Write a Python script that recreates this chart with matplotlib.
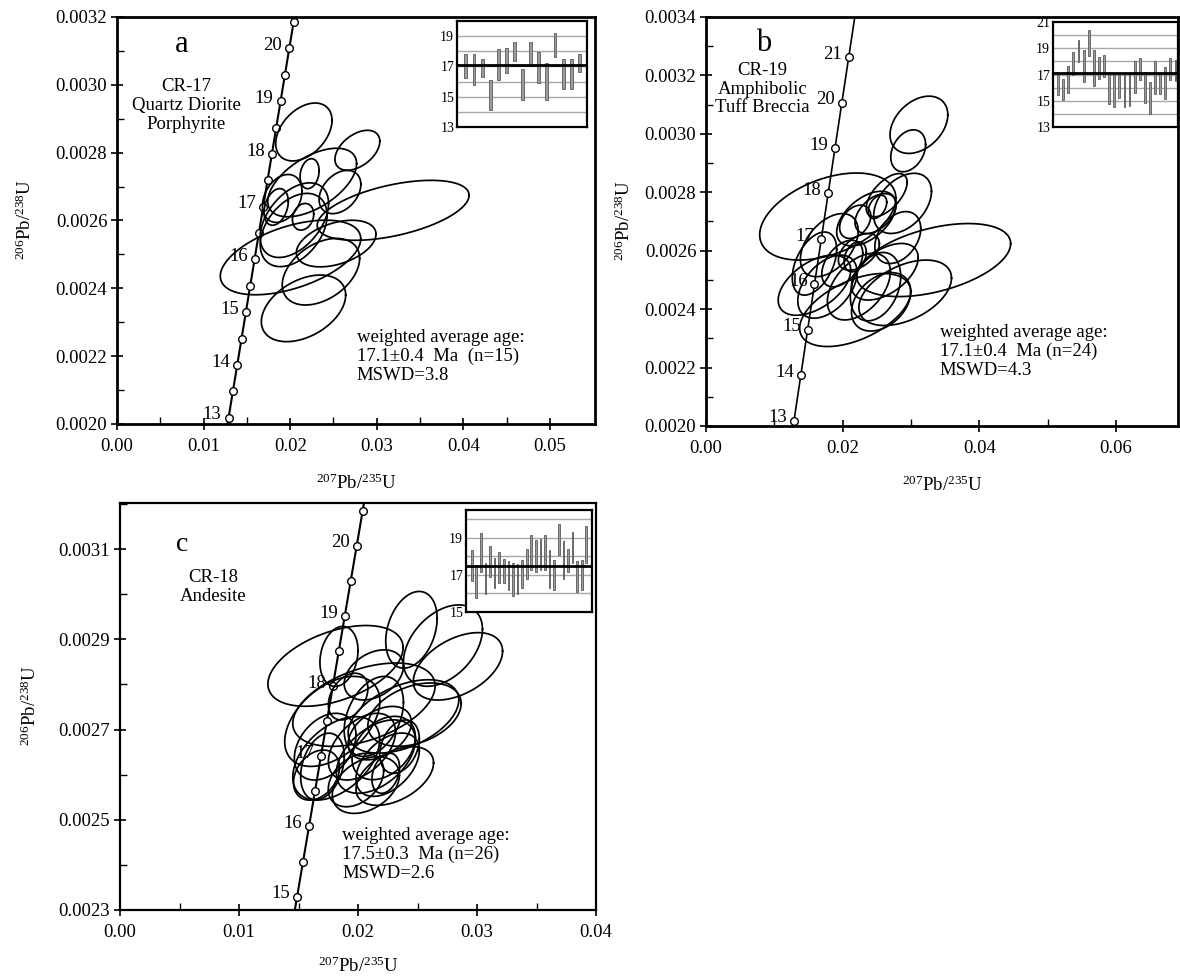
import numpy as np
import matplotlib
matplotlib.use("Agg")
import matplotlib.pyplot as plt
from matplotlib.ticker import FixedLocator

plt.rcParams['font.family'] = ['Liberation Serif', 'DejaVu Serif']
plt.rcParams['mathtext.fontset'] = 'custom'
plt.rcParams['mathtext.rm'] = 'Liberation Serif'
plt.rcParams['mathtext.it'] = 'Liberation Serif:italic'
plt.rcParams['mathtext.bf'] = 'Liberation Serif:bold'

# decay constants (1/yr) defining the concordia curve
LAMBDA_238 = 1.55125e-10
LAMBDA_235 = 9.8485e-10

# ---------------- Panel a : CR-17 ----------------
a_marker_ages = [13, 13.5, 14, 14.5, 15, 15.5, 16, 16.5, 17, 17.5, 18, 18.5, 19, 19.5, 20, 20.5]
a_label_ages = [13, 14, 15, 16, 17, 18, 19, 20]
a_curve_range = [12.5, 21.0]
a_cx = [0.02158, 0.02776, 0.02254, 0.02224, 0.02575, 0.03189, 0.02531, 0.02004,
        0.02355, 0.02154, 0.01908, 0.02048, 0.02040, 0.01838, 0.02149]
a_cy = [0.002861, 0.002807, 0.002712, 0.002738, 0.002684, 0.002630, 0.002532, 0.002491,
        0.002449, 0.002341, 0.002665, 0.002601, 0.002572, 0.002640, 0.002611]
a_ex = [0.00325, 0.00259, 0.00513, 0.00110, 0.00241, 0.00877, 0.00460, 0.00811,
        0.00447, 0.00487, 0.00228, 0.00395, 0.00386, 0.00140, 0.00123]
a_ey = [0.0000854, 0.0000589, 0.000101, 0.0000442, 0.0000638, 0.0000884, 0.0000687, 0.000110,
        0.0000982, 0.0000982, 0.0000707, 0.000110, 0.000108, 0.0000540, 0.0000393]
a_rho = [0.40, 0.45, 0.55, 0.2, 0.35, 0.5, 0.4, 0.5, 0.4, 0.4, 0.3, 0.45, 0.4, 0.3, 0.2]
a_age_hi = [17.84, 17.84, 17.51, 16.09, 18.12, 18.21, 18.60, 16.81, 18.60, 17.92, 17.20, 19.19, 17.51, 17.51, 17.84]
a_age_lo = [16.22, 15.78, 16.33, 14.09, 16.09, 16.59, 17.38, 14.79, 17.03, 15.91, 14.79, 17.60, 15.49, 15.49, 16.63]
a_mean = 17.1
a_sample = "CR-17\nQuartz Diorite\nPorphyrite"
a_result = "weighted average age:\n17.1\u00b10.4  Ma  (n=15)\nMSWD=3.8"

# ---------------- Panel b : CR-19 ----------------
b_marker_ages = [13, 14, 15, 16, 17, 18, 19, 20, 21]
b_label_ages = [13, 14, 15, 16, 17, 18, 19, 20, 21]
b_curve_range = [12.5, 22.2]
b_cx = [0.03117, 0.02960, 0.01783, 0.03333, 0.02878, 0.02645, 0.02510, 0.02482,
        0.02184, 0.02347, 0.02808, 0.01805, 0.01995, 0.02184, 0.01588, 0.01778,
        0.02184, 0.02238, 0.02482, 0.02564, 0.02916, 0.02618, 0.02238, 0.01588]
b_cy = [0.003031, 0.002942, 0.002717, 0.002568, 0.002762, 0.002790, 0.002750, 0.002727,
        0.002699, 0.002710, 0.002645, 0.002619, 0.002556, 0.002579, 0.002482, 0.002477,
        0.002397, 0.002477, 0.002477, 0.002425, 0.002456, 0.002528, 0.002596, 0.002556]
b_ex = [0.00423, 0.00255, 0.00997, 0.01127, 0.00423, 0.00300, 0.00136, 0.00300,
        0.00228, 0.00434, 0.00336, 0.00423, 0.00300, 0.00163, 0.00531, 0.00434,
        0.00813, 0.00461, 0.00369, 0.00434, 0.00678, 0.00488, 0.00300, 0.00325]
b_ey = [0.0000980, 0.0000718, 0.000149, 0.000125, 0.000103, 0.0000740, 0.0000400, 0.0000684,
        0.0000570, 0.0000935, 0.0000889, 0.000108, 0.0000798, 0.0000513, 0.000103, 0.000108,
        0.000125, 0.000114, 0.000117, 0.000100, 0.000112, 0.0000969, 0.0000627, 0.000108]
b_rho = [0.35, 0.3, 0.42, 0.45, 0.4, 0.6, 0.4, 0.45, 0.35, 0.5, 0.35, 0.45,
         0.45, 0.3, 0.5, 0.45, 0.5, 0.45, 0.3, 0.35, 0.45, 0.5, 0.45, 0.45]
b_age_hi = [16.93, 16.68, 17.62, 18.71, 19.60, 18.84, 20.41, 18.89, 18.33, 18.46, 17.19, 16.93,
            16.93, 16.93, 17.06, 18.03, 18.28, 17.19, 16.43, 18.03, 17.06, 17.57, 18.28, 18.13]
b_age_lo = [15.41, 15.08, 15.59, 16.93, 17.95, 16.43, 18.38, 16.10, 16.68, 16.81, 14.78, 14.52,
            15.23, 14.52, 14.57, 15.59, 16.60, 14.83, 13.96, 15.54, 15.54, 15.16, 16.55, 16.50]
b_mean = 17.1
b_sample = "CR-19\nAmphibolic\nTuff Breccia"
b_result = "weighted average age:\n17.1\u00b10.4  Ma (n=24)\nMSWD=4.3"

# ---------------- Panel c : CR-18 ----------------
c_marker_ages = [15, 15.5, 16, 16.5, 17, 17.5, 18, 18.5, 19, 19.5, 20, 20.5]
c_label_ages = [15, 16, 17, 18, 19, 20]
c_curve_range = [14.5, 21.0]
c_cx = [0.01811, 0.01840, 0.02449, 0.02714, 0.02840, 0.02133, 0.02050, 0.02382, 0.01784,
        0.02133, 0.02475, 0.01724, 0.01817, 0.01701, 0.02033, 0.02150, 0.02216, 0.02249,
        0.02066, 0.02309, 0.01651, 0.01983, 0.02349, 0.01917, 0.02233, 0.02183]
c_cy = [0.002841, 0.002862, 0.002921, 0.002886, 0.002840, 0.002821, 0.002755, 0.002729, 0.002718,
        0.002729, 0.002733, 0.002662, 0.002636, 0.002618, 0.002662, 0.002640, 0.002659, 0.002622,
        0.002577, 0.002597, 0.002599, 0.002588, 0.002662, 0.002773, 0.002603, 0.002692]
c_ex = [0.00568, 0.00160, 0.00216, 0.00332, 0.00375, 0.00249, 0.00598, 0.00465, 0.00400,
        0.00249, 0.00392, 0.00259, 0.00365, 0.00183, 0.00282, 0.00332, 0.00266, 0.00266,
        0.00282, 0.00326, 0.00193, 0.00233, 0.00166, 0.00166, 0.00116, 0.00266]
c_ey = [0.0000895, 0.0000665, 0.0000850, 0.0000902, 0.0000747, 0.0000555, 0.0000924, 0.0000813, 0.0000998,
        0.0000887, 0.0000702, 0.0000739, 0.0000924, 0.0000739, 0.0000739, 0.0000813, 0.0000702, 0.0000702,
        0.0000629, 0.0000650, 0.0000555, 0.0000592, 0.0000592, 0.0000518, 0.0000444, 0.0000592]
c_rho = [0.45, 0.2, 0.3, 0.4, 0.45, 0.35, 0.45, 0.45, 0.45, 0.35, 0.35, 0.35, 0.45,
         0.3, 0.45, 0.45, 0.35, 0.45, 0.35, 0.45, 0.3, 0.35, 0.3, 0.35, 0.3, 0.4]
c_age_hi = [18.33, 17.55, 19.24, 17.64, 18.55, 17.91, 18.24, 17.87, 17.73, 17.64, 17.60, 17.82, 18.42,
            19.15, 18.87, 18.91, 19.15, 18.33, 17.82, 19.76, 18.82, 18.42, 19.33, 17.73, 17.82, 19.64]
c_age_lo = [16.69, 15.78, 17.18, 15.96, 16.87, 16.27, 16.58, 16.58, 16.18, 15.85, 15.96, 16.27, 16.76,
            17.27, 17.18, 17.27, 17.27, 16.27, 16.18, 18.09, 16.76, 17.18, 17.64, 16.09, 16.18, 17.64]
c_mean = 17.5
c_sample = "CR-18\nAndesite"
c_result = "weighted average age:\n17.5\u00b10.3  Ma (n=26)\nMSWD=2.6"

W, H = 1180, 977
fig = plt.figure(figsize=(W / 100, H / 100), dpi=100)


def px_rect(l, r, t, b):
    return [l / W, 1 - b / H, (r - l) / W, (b - t) / H]


def concordia(ages):
    t = np.asarray(ages, dtype=float) * 1e6
    return np.exp(LAMBDA_235 * t) - 1, np.exp(LAMBDA_238 * t) - 1


def draw_panel(rect, xlim, ylim, xmaj, xmin, ymaj, ymin, marker_ages, label_ages,
               curve_range, cx, cy, ex, ey, rho, spine_lw, line_lw, fs=13.5, ylabfmt="%.4f"):
    ax = fig.add_axes(rect)
    ax.set_xlim(*xlim)
    ax.set_ylim(*ylim)
    # concordia
    cxs, cys = concordia(np.linspace(curve_range[0], curve_range[1], 50))
    ax.plot(cxs, cys, color='black', lw=line_lw, zorder=2)
    mx, my = concordia(marker_ages)
    ax.plot(mx, my, 'o', ms=5.5, mfc='white', mec='black', mew=1.0, zorder=3)
    lx, ly = concordia(label_ages)
    for a, x, y in zip(label_ages, lx, ly):
        ax.annotate(str(a), (x, y), xytext=(-5, 2), textcoords='offset points',
                    ha='right', va='center', fontsize=fs, zorder=2)
    # error ellipses
    tt = np.linspace(0, 2 * np.pi, 240)
    for x0, y0, sx, sy, r in zip(cx, cy, ex, ey, rho):
        xe = x0 + sx * np.cos(tt)
        ye = y0 + sy * (r * np.cos(tt) + np.sqrt(1 - r * r) * np.sin(tt))
        ax.plot(xe, ye, color='black', lw=1.25, zorder=4)
    ax.xaxis.set_major_locator(FixedLocator(xmaj))
    ax.xaxis.set_minor_locator(FixedLocator(xmin))
    ax.yaxis.set_major_locator(FixedLocator(ymaj))
    ax.yaxis.set_minor_locator(FixedLocator(ymin))
    ax.set_xticklabels(["%.2f" % v for v in xmaj])
    ax.set_yticklabels([ylabfmt % v for v in ymaj])
    ax.tick_params(which='major', direction='inout', length=8, width=1.2, labelsize=fs, pad=3)
    ax.tick_params(which='minor', direction='in', length=5, width=1.0)
    ax.tick_params(axis='x', which='major', pad=6)
    for s in ax.spines.values():
        s.set_linewidth(spine_lw)
    return ax


def draw_inset(rect, lo, hi, mean, ylim, labels, grid, xlim):
    ai = fig.add_axes(rect)
    n = len(lo)
    xs = np.arange(1, n + 1)
    for g in grid:
        ai.axhline(g, color='#a8a8a8', lw=1.0, zorder=1)
    ai.bar(xs, np.array(hi) - np.array(lo), bottom=lo, width=0.36,
           color='#9c9c9c', edgecolor='#5a5a5a', lw=0.6, zorder=2)
    ai.axhline(mean, color='black', lw=2.0, zorder=3)
    ai.set_xlim(*xlim)
    ai.set_ylim(*ylim)
    ai.set_xticks([])
    ai.set_yticks(labels)
    ai.set_yticklabels([str(v) for v in labels])
    ai.tick_params(axis='y', length=0, pad=2, labelsize=10)
    for s in ai.spines.values():
        s.set_linewidth(1.6)
    return ai


# ---- panel a ----
ax_a = draw_panel(px_rect(117, 595, 17, 424), (0, 0.0552), (0.0020, 0.0032),
                  [0, 0.01, 0.02, 0.03, 0.04, 0.05], [0.005, 0.015, 0.025, 0.035, 0.045],
                  list(np.arange(0.0020, 0.00321, 0.0002)), list(np.arange(0.0021, 0.0032, 0.0002)),
                  a_marker_ages, a_label_ages, a_curve_range, a_cx, a_cy, a_ex, a_ey, a_rho,
                  spine_lw=2.0, line_lw=1.5)
ax_a.text(0.0075, 0.00312, "a", fontsize=22, ha='center', va='center')
ax_a.text(0.0080, 0.00302, a_sample, fontsize=13.5, ha='center', va='top', linespacing=1.15)
ax_a.text(0.0277, 0.00228, a_result, fontsize=13.5, ha='left', va='top', linespacing=1.15)
draw_inset(px_rect(457, 587, 21, 127), a_age_lo, a_age_hi, a_mean, (13, 20),
           [13, 15, 17, 19], range(14, 20), (-0.1, 15.95))

# ---- panel b ----
ax_b = draw_panel(px_rect(706, 1178, 17, 426), (0, 0.0691), (0.0020, 0.0034),
                  [0, 0.02, 0.04, 0.06], [0.01, 0.03, 0.05],
                  list(np.arange(0.0020, 0.00341, 0.0002)), list(np.arange(0.0021, 0.0034, 0.0002)),
                  b_marker_ages, b_label_ages, b_curve_range, b_cx, b_cy, b_ex, b_ey, b_rho,
                  spine_lw=2.0, line_lw=1.2)
ax_b.text(0.0085, 0.00331, "b", fontsize=22, ha='center', va='center')
ax_b.text(0.0083, 0.003245, b_sample, fontsize=13.5, ha='center', va='top', linespacing=1.1)
ax_b.text(0.0342, 0.00235, b_result, fontsize=13.5, ha='left', va='top', linespacing=1.15)
draw_inset(px_rect(1053, 1178, 22, 127), b_age_lo, b_age_hi, b_mean, (13, 21),
           [13, 15, 17, 19, 21], range(14, 21), (0.0, 24.5))

# ---- panel c ----
ax_c = draw_panel(px_rect(120, 596, 503, 910), (0, 0.04), (0.0023, 0.003202),
                  [0, 0.01, 0.02, 0.03, 0.04], [0.005, 0.015, 0.025, 0.035],
                  [0.0023, 0.0025, 0.0027, 0.0029, 0.0031], [0.0024, 0.0026, 0.0028, 0.0030, 0.0032],
                  c_marker_ages, c_label_ages, c_curve_range, c_cx, c_cy, c_ex, c_ey, c_rho,
                  spine_lw=1.6, line_lw=1.5)
ax_c.text(0.0052, 0.00311, "c", fontsize=20, ha='center', va='center')
ax_c.text(0.0078, 0.003055, c_sample, fontsize=13.5, ha='center', va='top', linespacing=1.15)
ax_c.text(0.01867, 0.002485, c_result, fontsize=13.5, ha='left', va='top', linespacing=1.15)
draw_inset(px_rect(466, 592, 510, 612), c_age_lo, c_age_hi, c_mean, (15, 20.5),
           [15, 17, 19], range(16, 21), (-0.25, 27.25))

# axis titles
ylab = r"$^{206}$Pb/$^{238}$U"
xlab = r"$^{207}$Pb/$^{235}$U"
fig.text(25 / W, 1 - 220 / H, ylab, rotation=90, ha='center', va='center', fontsize=13.5)
fig.text(624 / W, 1 - 221 / H, ylab, rotation=90, ha='center', va='center', fontsize=13.5)
fig.text(30 / W, 1 - 706 / H, ylab, rotation=90, ha='center', va='center', fontsize=13.5)
fig.text(356 / W, 1 - 483 / H, xlab, ha='center', va='center', fontsize=13.5)
fig.text(942 / W, 1 - 485 / H, xlab, ha='center', va='center', fontsize=13.5)
fig.text(358 / W, 1 - 966 / H, xlab, ha='center', va='center', fontsize=13.5)

fig.savefig("out.png", dpi=100)
